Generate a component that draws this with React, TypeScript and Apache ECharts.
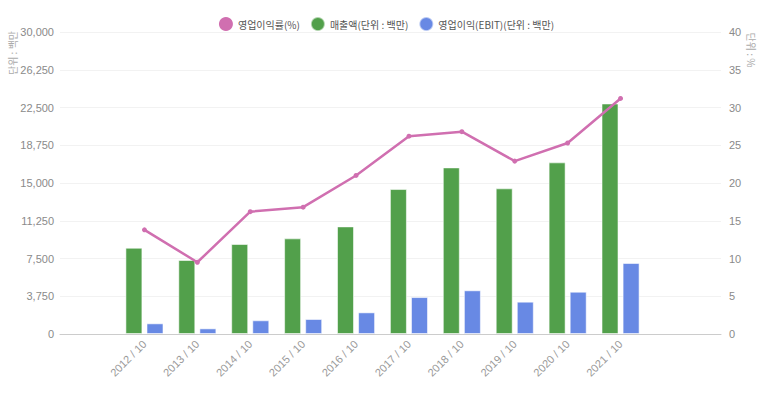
import React, { useEffect, useRef } from "react";
import * as echarts from "echarts";

const categories = ["2012 / 10", "2013 / 10", "2014 / 10", "2015 / 10", "2016 / 10", "2017 / 10", "2018 / 10", "2019 / 10", "2020 / 10", "2021 / 10"];
const salesValues = [8570, 7350, 8940, 9500, 10690, 14400, 16550, 14470, 17050, 22900];
const ebitValues = [1060, 560, 1360, 1490, 2150, 3670, 4340, 3210, 4200, 7050];
const marginValues = [13.8, 9.5, 16.2, 16.8, 21.0, 26.2, 26.8, 22.9, 25.3, 31.2];
const leftTicks = { min: 0, max: 30000, interval: 3750 };
const rightTicks = { min: 0, max: 40, interval: 5 };
const legendNames = ["영업이익률(%)", "매출액(단위 : 백만)", "영업이익(EBIT)(단위 : 백만)"];

const FONT = "'Liberation Sans', 'Noto Sans CJK KR', sans-serif";

export default function App() {
  const ref = useRef<HTMLDivElement>(null);
  useEffect(() => {
    if (!ref.current) return;
    const chart = echarts.init(ref.current, undefined, { renderer: "svg" });
    const labelColor = "#8a8a8a";
    chart.setOption({
      animation: false,
      textStyle: { fontFamily: FONT },
      legend: {
        top: 11,
        left: "center",
        icon: "circle",
        itemWidth: 14,
        itemHeight: 14,
        itemGap: 10,
        textStyle: { fontSize: 10, color: "#555", fontFamily: "'Noto Sans CJK KR', sans-serif" },
        data: legendNames,
      },
      grid: [
        { left: 60, right: 52, top: 32, bottom: 61 },
        { left: 118, right: 126, top: 32, bottom: 61 },
      ],
      xAxis: [
        {
          type: "category",
          gridIndex: 0,
          data: [""],
          axisLine: { lineStyle: { color: "#ccc" } },
          axisTick: { show: false },
          axisLabel: { show: false },
        },
        {
          type: "category",
          gridIndex: 1,
          data: categories,
          axisLine: { show: false },
          axisTick: { show: false },
          axisLabel: { rotate: 45, fontSize: 11, color: "#999", margin: 8, interval: 0 },
        },
      ],
      yAxis: [
        {
          type: "value",
          gridIndex: 0,
          ...leftTicks,
          axisLine: { show: false },
          axisTick: { show: false },
          axisLabel: {
            fontSize: 11,
            color: labelColor,
            margin: 6,
            formatter: (v: number) => v.toLocaleString("en-US"),
          },
          splitLine: { lineStyle: { color: "#f2f2f2" } },
        },
        {
          type: "value",
          gridIndex: 0,
          ...rightTicks,
          position: "right",
          axisLine: { show: false },
          axisTick: { show: false },
          axisLabel: { fontSize: 11, color: labelColor, margin: 8 },
          splitLine: { show: false },
        },
        { type: "value", gridIndex: 1, ...leftTicks, show: false },
        { type: "value", gridIndex: 1, ...rightTicks, show: false, position: "right" },
      ],
      graphic: [
        {
          type: "text",
          x: 12,
          y: 53,
          rotation: Math.PI / 2,
          style: {
            text: "단위 : 백만",
            fontSize: 10,
            fill: "#aaa",
            align: "center",
            verticalAlign: "middle",
            fontFamily: "'Noto Sans CJK KR', sans-serif",
          },
        },
        {
          type: "text",
          x: 751,
          y: 50,
          rotation: -Math.PI / 2,
          style: {
            text: "단위 : %",
            fontSize: 10,
            fill: "#aaa",
            align: "center",
            verticalAlign: "middle",
            fontFamily: "'Noto Sans CJK KR', sans-serif",
          },
        },
      ],
      series: [
        {
          name: legendNames[1],
          type: "bar",
          xAxisIndex: 1,
          yAxisIndex: 2,
          data: salesValues,
          barWidth: 17,
          barGap: "24%",
          itemStyle: { color: "#52a04b", borderColor: "rgba(255,255,255,0.55)", borderWidth: 1 },
        },
        {
          name: legendNames[2],
          type: "bar",
          xAxisIndex: 1,
          yAxisIndex: 2,
          data: ebitValues,
          barWidth: 17,
          barGap: "24%",
          itemStyle: { color: "#6889e4", borderColor: "rgba(255,255,255,0.55)", borderWidth: 1 },
        },
        {
          name: legendNames[0],
          type: "line",
          xAxisIndex: 1,
          yAxisIndex: 3,
          data: marginValues,
          symbol: "circle",
          symbolSize: 5,
          lineStyle: { color: "#d06fb0", width: 2.5 },
          itemStyle: { color: "#d06fb0" },
          z: 5,
        },
      ],
    });
    return () => chart.dispose();
  }, []);
  return (
    <div
      ref={ref}
      style={{ position: "fixed", left: 0, top: 0, width: 773, height: 395, background: "#fff" }}
    />
  );
}
